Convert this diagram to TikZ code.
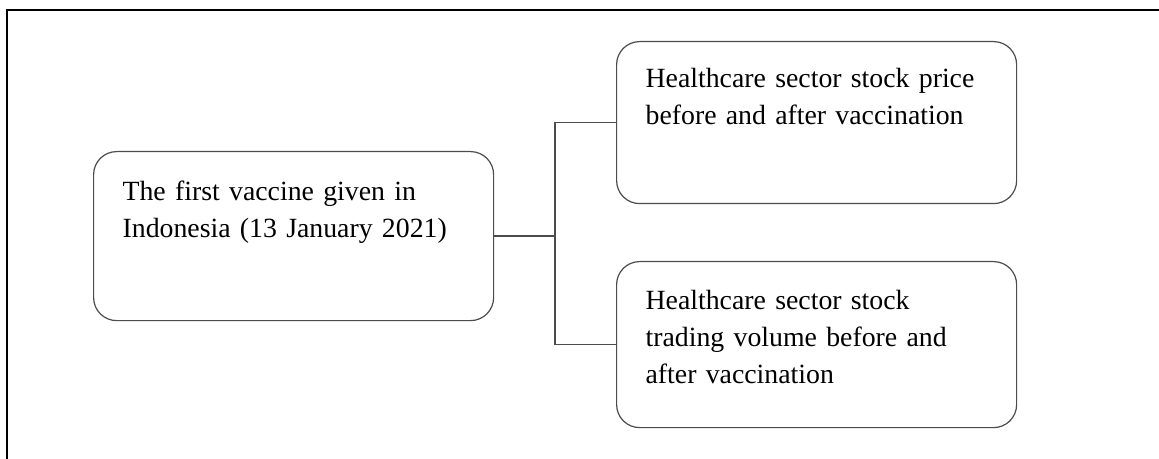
\documentclass[tikz,border=0pt]{standalone}
\usepackage{fontspec}
\setmainfont{Liberation Serif}
\usepackage{tikz}

\begin{document}
\begin{tikzpicture}[x=0.5pt, y=-0.5pt, font=\fontsize{13.9}{18.5}\selectfont,
  every box/.style={draw=black!70, line width=0.6pt, rounded corners=11.5pt,
    align=left, text width=171pt, inner xsep=14.5pt, inner ysep=0pt, anchor=north west},
  link/.style={draw=black!70, line width=0.6pt}]

\useasboundingbox (0,0) rectangle (1159,459);

% frame of the page
\draw [line width=1.3pt] (1159,10) -- (7,10) -- (7,459);

\node [every box, text height=24.5pt, text depth=60pt] (vaccine) at (93,151)
  {The first vaccine given in\\ Indonesia (13 January 2021)};

\node [every box, text height=23pt, text depth=58pt] (price) at (616,41)
  {Healthcare sector stock price\\ before and after vaccination};

\node [every box, text height=24pt, text depth=59pt] (volume) at (616,261)
  {Healthcare sector stock\\ trading volume before and\\ after vaccination};

\coordinate (split) at (555,0);

\draw [link] (vaccine.east) -- (vaccine.east -| split);
\draw [link] (price.west) -- (price.west -| split)
  -- (volume.west -| split) -- (volume.west);

\end{tikzpicture}
\end{document}
